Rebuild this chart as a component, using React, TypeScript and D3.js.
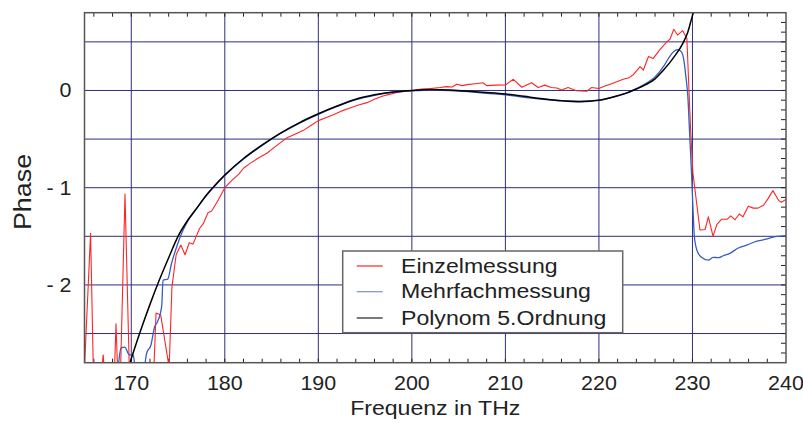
import React from "react";
import * as d3 from "d3";

const xTicks = [170, 180, 190, 200, 210, 220, 230, 240];
const yTicks = [0, -1, -2];
const yTickLabels = ["0", "- 1", "- 2"];
const xGrid = [170, 180, 190, 200, 210, 220, 230];
const yGrid = [0.5, 0, -0.5, -1, -1.5, -2, -2.5];
const legendLabels = ["Einzelmessung", "Mehrfachmessung", "Polynom 5.Ordnung"];

const redFreq = [165.0, 165.65, 165.95, 166.8, 167.0, 167.15, 168.2, 168.37, 168.55, 168.85, 169.33, 169.8, 172.4, 172.65, 173.15, 174.05, 174.35, 174.8, 175.3, 175.75, 176.2, 176.6, 177.3, 177.7, 178.2, 178.6, 179.3, 180.0, 180.7, 181.5, 182.0, 182.7, 183.5, 184.5, 185.5, 186.6, 187.5, 188.4, 189.2, 190.0, 190.8, 191.6, 192.5, 193.4, 194.3, 195.2, 196.0, 196.9, 197.6, 198.4, 199.2, 200.0, 201.0, 202.0, 203.0, 203.7, 204.3, 204.8, 205.4, 205.9, 206.8, 207.6, 208.0, 209.0, 210.0, 210.85, 211.75, 212.8, 213.5, 214.2, 214.9, 215.5, 216.0, 216.7, 217.6, 218.7, 219.2, 220.0, 220.5, 221.5, 222.6, 223.2, 223.7, 224.4, 224.75, 225.3, 225.8, 226.5, 227.25, 227.6, 228.0, 228.4, 228.95, 229.4, 229.8, 230.05, 230.8, 231.35, 231.7, 232.2, 232.6, 233.1, 233.7, 234.1, 234.55, 235.0, 235.4, 235.97, 236.5, 237.0, 237.6, 238.1, 238.6, 239.2, 239.5, 240.0];
const redPhase = [-2.85, -1.47, -2.9, -2.9, -2.72, -2.9, -2.9, -2.4, -2.9, -2.9, -1.065, -2.9, -2.9, -2.29, -2.31, -2.85, -2.02, -1.69, -1.59, -1.69, -1.566, -1.58, -1.42, -1.37, -1.257, -1.24, -1.127, -1.0, -0.93, -0.86, -0.8, -0.75, -0.7, -0.646, -0.57, -0.49, -0.45, -0.41, -0.36, -0.31, -0.28, -0.25, -0.21, -0.18, -0.15, -0.125, -0.09, -0.057, -0.04, -0.02, -0.01, 0.0, 0.015, 0.02, 0.03, 0.04, 0.035, 0.064, 0.05, 0.06, 0.07, 0.08, 0.05, 0.055, 0.057, 0.115, 0.033, 0.08, 0.03, 0.055, 0.03, 0.025, 0.005, 0.03, -0.003, -0.008, 0.03, 0.02, 0.04, 0.075, 0.115, 0.13, 0.165, 0.245, 0.21, 0.35, 0.33, 0.417, 0.5, 0.527, 0.63, 0.57, 0.615, 0.537, -0.4, -0.85, -1.435, -1.43, -1.3, -1.5, -1.38, -1.325, -1.325, -1.29, -1.33, -1.27, -1.3, -1.19, -1.21, -1.21, -1.18, -1.11, -1.03, -1.13, -1.15, -1.12];

const blueFreq = [168.6, 168.9, 169.3, 169.8, 170.2, 170.45, 171.35, 171.65, 172.1, 172.5, 172.8, 173.25, 173.4, 173.9, 174.3, 174.85, 175.3, 176, 177, 178, 179, 180, 182, 184, 186, 188, 190, 192, 194, 196, 198, 200, 202, 204, 206, 208, 210, 212, 214, 216, 218, 220, 221, 222, 223, 224, 225, 226, 227, 227.5, 228.0, 228.4, 228.8, 229.1, 229.3, 229.5, 229.7, 229.9, 230.05, 230.2, 230.5, 230.9, 231.7, 232.2, 232.77, 233.3, 234.0, 234.9, 235.8, 236.9, 237.9, 239.0, 240.0];
const bluePhase = [-2.85, -2.65, -2.64, -2.72, -2.72, -2.85, -2.85, -2.7, -2.62, -2.43, -2.38, -2.22, -1.95, -1.94, -1.78, -1.61, -1.49, -1.35, -1.215, -1.085, -0.975, -0.875, -0.705, -0.565, -0.44, -0.335, -0.245, -0.165, -0.095, -0.05, -0.018, -0.003, 0.005, 0.0, -0.012, -0.03, -0.045, -0.07, -0.09, -0.105, -0.11, -0.1, -0.08, -0.055, -0.025, 0.02, 0.07, 0.14, 0.26, 0.34, 0.4, 0.42, 0.4, 0.3, 0.14, -0.05, -0.45, -0.85, -1.2, -1.5, -1.65, -1.71, -1.745, -1.716, -1.72, -1.7, -1.675, -1.62, -1.59, -1.55, -1.53, -1.5, -1.495];

const blackFreq = [169.8, 170, 171, 172, 173, 174, 175, 176, 177, 178, 179, 180, 182, 184, 186, 188, 190, 192, 194, 196, 198, 200, 202, 204, 206, 208, 210, 212, 214, 216, 218, 220, 222, 223, 224, 225, 226, 227, 228, 229, 229.5, 230, 230.2];
const blackPhase = [-2.82, -2.76, -2.47, -2.2, -1.95, -1.72, -1.5, -1.34, -1.21, -1.08, -0.97, -0.87, -0.7, -0.56, -0.435, -0.33, -0.24, -0.16, -0.09, -0.045, -0.015, 0, 0.01, 0.005, -0.008, -0.02, -0.035, -0.06, -0.085, -0.105, -0.115, -0.1, -0.055, -0.025, 0.015, 0.06, 0.12, 0.22, 0.34, 0.49, 0.6, 0.77, 0.83];

const W = 803;
const H = 423;
const L = 84.5;
const R = 786;
const T = 12.7;
const B = 362.7;
const FONT = "'Liberation Sans', Arial, Helvetica, sans-serif";
const STRETCH = 1.1;

const RED = "#ff2424";
const BLUE = "#3a5bbf";
const BLACK = "#000000";
const GRID = "#2e2e7e";

export default function App() {
  const x = d3.scaleLinear().domain([165, 240]).range([L, R]);
  const y = d3.scaleLinear().domain([-2.8, 0.8]).range([B, T]);

  const zip = (xs: number[], ys: number[]) => xs.map((v, i) => [v, ys[i]] as [number, number]);
  const linear = d3.line<[number, number]>().x((d) => x(d[0])).y((d) => y(d[1]));
  const smooth = d3
    .line<[number, number]>()
    .x((d) => x(d[0]))
    .y((d) => y(d[1]))
    .curve(d3.curveMonotoneX);

  const minorX = d3.range(166, 240, 2);
  const minorY = d3.range(-27, 8).map((v) => v / 10);

  const legendY = [266, 291.7, 318];
  const legendColors = [RED, "#7a90d0", "#222"];

  return (
    <svg
      width={W}
      height={H}
      style={{ position: "absolute", left: 0, top: 0, background: "#fff" }}
    >
      <defs>
        <clipPath id="plot">
          <rect x={L} y={T} width={R - L} height={B - T} />
        </clipPath>
      </defs>
      <rect x={0} y={0} width={W} height={H} fill="#fff" />
      {/* grid */}
      {xGrid.map((v) => (
        <line key={"gx" + v} x1={x(v)} x2={x(v)} y1={T} y2={B} stroke={GRID} strokeWidth={1} />
      ))}
      {yGrid.map((v) => (
        <line key={"gy" + v} x1={L} x2={R} y1={y(v)} y2={y(v)} stroke={GRID} strokeWidth={1} />
      ))}
      {/* minor ticks */}
      {minorX.map((v) => (
        <g key={"mx" + v}>
          <line x1={x(v)} x2={x(v)} y1={T} y2={T + 4} stroke="#222" strokeWidth={1} />
          <line x1={x(v)} x2={x(v)} y1={B} y2={B - 4} stroke="#222" strokeWidth={1} />
        </g>
      ))}
      {minorY.map((v) => (
        <line key={"my" + v} x1={R} x2={R - 5} y1={y(v)} y2={y(v)} stroke="#222" strokeWidth={1} />
      ))}
      {/* data */}
      <g clipPath="url(#plot)">
        <path d={linear(zip(redFreq, redPhase)) || ""} fill="none" stroke={RED} strokeWidth={1.1} strokeLinejoin="round" />
        <path d={smooth(zip(blueFreq, bluePhase)) || ""} fill="none" stroke={BLUE} strokeWidth={1.3} strokeLinejoin="round" />
        <path d={smooth(zip(blackFreq, blackPhase)) || ""} fill="none" stroke={BLACK} strokeWidth={1.5} />
      </g>
      {/* frame */}
      <rect x={L} y={T} width={R - L} height={B - T} fill="none" stroke="#555" strokeWidth={1.5} />
      {/* x tick labels */}
      {xTicks.map((v) => (
        <text
          key={"xt" + v}
          transform={`translate(${x(v)},390) scale(${STRETCH},1)`}
          textAnchor="middle"
          fontFamily={FONT}
          fontSize={19.5}
          fill="#222"
        >
          {v}
        </text>
      ))}
      {/* y tick labels */}
      {yTicks.map((v, i) => (
        <text
          key={"yt" + v}
          transform={`translate(71.5,${y(v) + 7}) scale(${STRETCH},1)`}
          textAnchor="end"
          fontFamily={FONT}
          fontSize={19.5}
          fill="#222"
          style={{ whiteSpace: "pre" }}
        >
          {yTickLabels[i]}
        </text>
      ))}
      {/* axis titles */}
      <text
        transform={`translate(${(L + R) / 2},415) scale(${STRETCH},1)`}
        textAnchor="middle"
        fontFamily={FONT}
        fontSize={21}
        fill="#222"
      >
        Frequenz in THz
      </text>
      <text
        transform={`translate(30.5,192) rotate(-90) scale(1.12,1)`}
        textAnchor="middle"
        fontFamily={FONT}
        fontSize={24}
        fill="#222"
      >
        Phase
      </text>
      {/* legend */}
      <rect x={342.7} y={251} width={280} height={81.7} fill="#fff" stroke="#666" strokeWidth={1.5} />
      {legendLabels.map((lab, i) => (
        <g key={lab}>
          <line x1={356.7} x2={382.7} y1={legendY[i]} y2={legendY[i]} stroke={legendColors[i]} strokeWidth={1.2} />
          <text
            transform={`translate(401,${legendY[i] + 6.5}) scale(${STRETCH},1)`}
            fontFamily={FONT}
            fontSize={21}
            fill="#222"
          >
            {lab}
          </text>
        </g>
      ))}
    </svg>
  );
}
